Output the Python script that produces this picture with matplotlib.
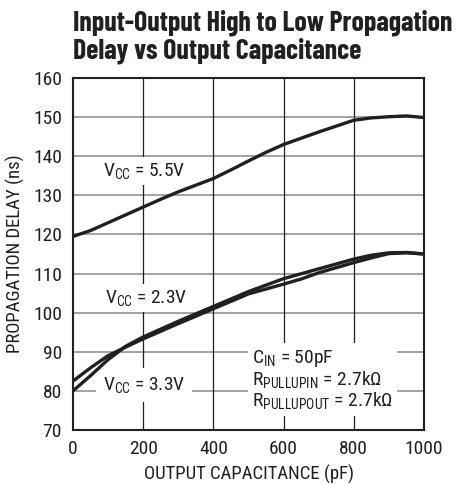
import matplotlib
matplotlib.use("Agg")
import matplotlib.pyplot as plt
from matplotlib import font_manager

names = {f.name for f in font_manager.fontManager.ttflist}
FONT = next((n for n in ['Roboto Condensed', 'Archivo Narrow', 'PT Sans Narrow', 'Liberation Sans']
             if n in names), 'DejaVu Sans')
TFONT = next((n for n in ['Barlow Condensed', 'Fira Sans Extra Condensed', 'Roboto Condensed']
              if n in names), FONT)
plt.rcParams['font.family'] = [FONT, 'DejaVu Sans']
plt.rcParams['mathtext.fontset'] = 'custom'
plt.rcParams['mathtext.rm'] = FONT
plt.rcParams['mathtext.it'] = FONT

# Data
cap_55 = [0, 50, 100, 150, 200, 250, 300, 350, 400, 450, 500, 550, 600, 650, 700, 750, 800, 850, 900, 950, 1000]
delay_55 = [119.5, 121.0, 123.0, 125.0, 127.0, 129.0, 130.9, 132.6, 134.3, 136.5, 138.8, 141.0, 143.0, 144.6,
            146.2, 147.7, 149.2, 149.8, 150.1, 150.3, 149.9]

cap_a = [0, 50, 100, 150, 200, 300, 400, 500, 600, 700, 800, 850, 900, 950, 1000]
delay_a = [80.0, 83.9, 88.0, 91.4, 93.8, 97.8, 101.6, 105.4, 108.7, 111.2, 113.7, 114.7, 115.3, 115.4, 115.0]

cap_b = [0, 50, 100, 150, 200, 300, 400, 500, 600, 650, 700, 800, 850, 900, 950, 1000]
delay_b = [82.5, 85.9, 89.0, 91.2, 93.3, 97.2, 101.0, 104.8, 107.3, 108.6, 110.2, 112.8, 114.0, 115.1, 115.3, 115.0]

xticks = [0, 200, 400, 600, 800, 1000]
yticks = [70, 80, 90, 100, 110, 120, 130, 140, 150, 160]

INK = '#231f20'
fig = plt.figure(figsize=(4.62, 4.84), dpi=100)
ax = fig.add_axes([73/462, 1 - 430/484, (424-73)/462, (430-78)/484])

ax.set_xlim(0, 1000)
ax.set_ylim(70, 160)
ax.set_xticks(xticks)
ax.set_yticks(yticks)
ax.tick_params(axis='both', length=0, labelsize=14, colors=INK)
ax.tick_params(axis='x', pad=7)
ax.tick_params(axis='y', pad=8)

for y in yticks[1:-1]:
    ax.axhline(y, color='#8a8a8a', lw=1.1, zorder=1)
for x in xticks[1:-1]:
    ax.axvline(x, color=INK, lw=0.9, zorder=1)

for s in ax.spines.values():
    s.set_linewidth(1.5)
    s.set_color(INK)

lw = 2.4
for cx, cy in [(cap_55, delay_55), (cap_a, delay_a), (cap_b, delay_b)]:
    ax.plot(cx, cy, color=INK, lw=lw, zorder=3, solid_capstyle='butt')

fs = 14
def label(x, y, s, pad=3):
    ax.text(x, y, s, fontsize=fs, va='center', ha='left', color=INK, zorder=2,
            bbox=dict(facecolor='white', edgecolor='none', pad=pad))

label(85, 136.2, r'V$_{\mathregular{CC}}$ = 5.5V')
label(91, 103.8, r'V$_{\mathregular{CC}}$ = 2.3V')
label(85, 81.6, r'V$_{\mathregular{CC}}$ = 3.3V', pad=5)
ax.text(510, 82.8,
        'C$_{\\mathregular{IN}}$ = 50pF\n'
        'R$_{\\mathregular{PULLUPIN}}$ = 2.7k\u03a9\n'
        'R$_{\\mathregular{PULLUPOUT}}$ = 2.7k\u03a9',
        fontsize=fs, va='center', ha='left', linespacing=1.0, color=INK, zorder=2,
        bbox=dict(facecolor='white', edgecolor='none', pad=3))

ax.set_xlabel('OUTPUT CAPACITANCE (pF)', fontsize=13.5, color=INK, labelpad=5)
ax.set_ylabel('PROPAGATION DELAY (ns)', fontsize=13.5, color=INK, labelpad=6)

title = fig.text(73/462, 1 - 31/484, 'Input-Output High to Low Propagation',
                 fontsize=17, fontweight='bold', ha='left', va='baseline', color=INK,
                 family=[TFONT, 'DejaVu Sans'])
title2 = fig.text(73/462, 1 - 58/484, 'Delay vs Output Capacitance',
                  fontsize=17, fontweight='bold', ha='left', va='baseline', color=INK,
                  family=[TFONT, 'DejaVu Sans'])
r = fig.canvas.get_renderer()
w = title.get_window_extent(r).width
fsz = 17 * 379.0 / w
title.set_fontsize(fsz)
title2.set_fontsize(fsz)

fig.savefig('out.png', dpi=100)
